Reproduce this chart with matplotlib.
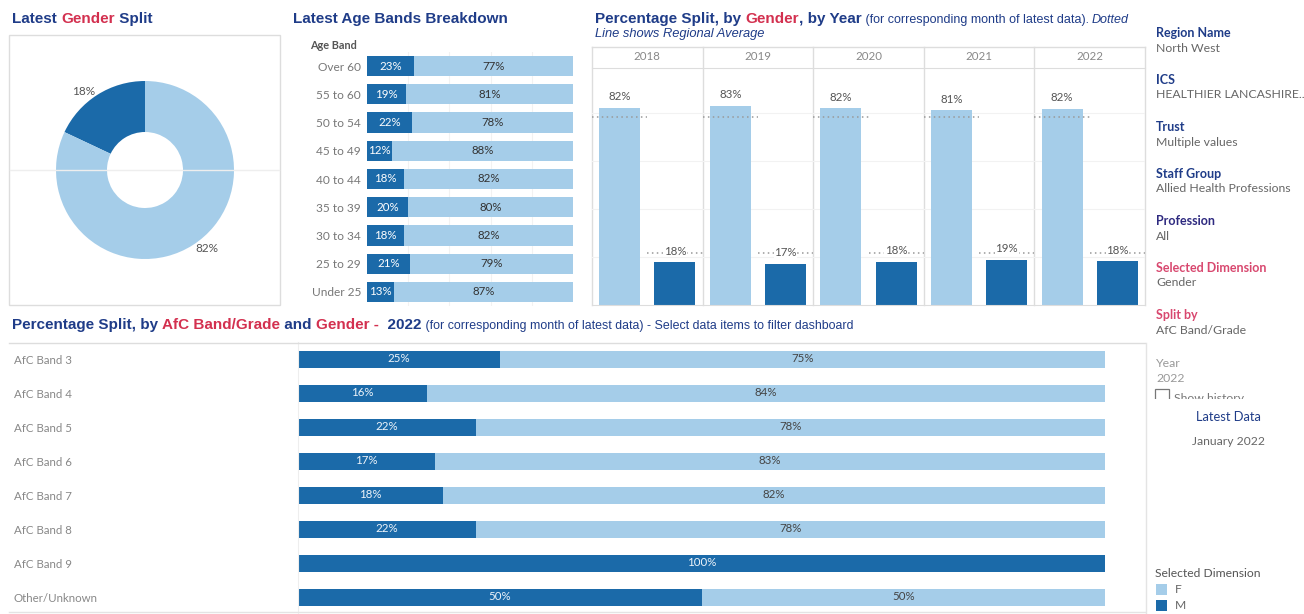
import math
import matplotlib
matplotlib.use('Agg')
import matplotlib.pyplot as plt
from matplotlib.patches import Rectangle
from matplotlib.lines import Line2D

# ---------------- data ----------------
gender_labels = ['M', 'F']
gender_split = [18, 82]

age_bands = ['Over 60', '55 to 60', '50 to 54', '45 to 49', '40 to 44',
             '35 to 39', '30 to 34', '25 to 29', 'Under 25']
age_m = [23, 19, 22, 12, 18, 20, 18, 21, 13]
age_f = [77, 81, 78, 88, 82, 80, 82, 79, 87]

years = ['2018', '2019', '2020', '2021', '2022']
year_f = [82.2, 82.9, 81.9, 81.2, 81.7]
year_m = [17.8, 17.1, 18.1, 18.8, 18.3]
regional_f = 78.2
regional_m = 21.8

afc_bands = ['AfC Band 3', 'AfC Band 4', 'AfC Band 5', 'AfC Band 6',
             'AfC Band 7', 'AfC Band 8', 'AfC Band 9', 'Other/Unknown']
afc_m = [25, 16, 22, 17, 18, 22, 100, 50]
afc_f = [75, 84, 78, 83, 82, 78, 0, 50]

sidebar = [('Region Name', 'North West', 'navy'),
           ('ICS', 'HEALTHIER LANCASHIRE..', 'navy'),
           ('Trust', 'Multiple values', 'navy'),
           ('Staff Group', 'Allied Health Professions', 'navy'),
           ('Profession', 'All', 'purple'),
           ('Selected Dimension', 'Gender', 'pink'),
           ('Split by', 'AfC Band/Grade', 'pink')]

# ---------------- style ----------------
W, H = 1304, 614
NAVY = '#1f3c88'
PURPLE = '#2e2a80'
CRIMSON = '#d3304f'
PINK = '#d8486f'
DARK = '#1b6aa9'
LIGHT = '#a5cde9'
BODY = ['Lato', 'DejaVu Sans']
TITLE = ['Liberation Sans', 'DejaVu Sans']

fig = plt.figure(figsize=(W / 100, H / 100), dpi=100)
renderer = fig.canvas.get_renderer()


def fx(x):
    return x / W


def fy(y):
    return 1 - y / H


def px_axes(x0, y0, x1, y1):
    return fig.add_axes([fx(x0), fy(y1), (x1 - x0) / W, (y1 - y0) / H])


def hline(x0, x1, y, color='#dddddd', lw=1.0):
    fig.add_artist(Line2D([fx(x0), fx(x1)], [fy(y), fy(y)], transform=fig.transFigure,
                          color=color, lw=lw))


def vline(x, y0, y1, color='#dddddd', lw=1.0):
    fig.add_artist(Line2D([fx(x), fx(x)], [fy(y0), fy(y1)], transform=fig.transFigure,
                          color=color, lw=lw))


def text_width(s, **kw):
    t1 = fig.text(0, 0, '|' + s + '|', **kw)
    t2 = fig.text(0, 0, '||', **kw)
    w = t1.get_window_extent(renderer).width - t2.get_window_extent(renderer).width
    t1.remove()
    t2.remove()
    return w


def rich(x, y, parts):
    for txt, color, size, weight, style in parts:
        kw = dict(color=color, fontsize=size, fontweight=weight, fontstyle=style, family=TITLE)
        fig.text(fx(x), fy(y), txt, va='baseline', ha='left', **kw)
        x += text_width(txt, **kw)


# ---------------- titles ----------------
rich(12, 23, [('Latest ', NAVY, 11, 'bold', 'normal'),
              ('Gender', CRIMSON, 11, 'bold', 'normal'),
              (' Split', NAVY, 11, 'bold', 'normal')])
rich(293, 23, [('Latest Age Bands Breakdown', NAVY, 11, 'bold', 'normal')])
rich(595, 23, [('Percentage Split, by ', NAVY, 11, 'bold', 'normal'),
               ('Gender', CRIMSON, 11, 'bold', 'normal'),
               (', by Year', NAVY, 11, 'bold', 'normal'),
               (' (for corresponding month of latest data). ', NAVY, 9, 'normal', 'normal'),
               ('Dotted', NAVY, 9, 'normal', 'italic')])
rich(595, 37.5, [('Line shows Regional Average', NAVY, 9.3, 'normal', 'italic')])
rich(12, 329, [('Percentage Split, by ', NAVY, 11, 'bold', 'normal'),
               ('AfC Band/Grade', CRIMSON, 11, 'bold', 'normal'),
               (' and ', NAVY, 11, 'bold', 'normal'),
               ('Gender -', CRIMSON, 11, 'bold', 'normal'),
               ('  2022', NAVY, 11, 'bold', 'normal'),
               (' (for corresponding month of latest data) - Select data items to filter dashboard',
                NAVY, 8.9, 'normal', 'normal')])

# ---------------- donut ----------------
fig.add_artist(Rectangle((fx(9), fy(305)), (280 - 9) / W, (305 - 35) / H,
                         transform=fig.transFigure, fill=False, edgecolor='#dddddd', lw=1))
hline(10, 279, 170, color='#eeeeee', lw=1)
axd = px_axes(9, 35, 280, 305)
cx, cy, R = 145, -170, 89
wedges, _ = axd.pie(gender_split, colors=[DARK, LIGHT], startangle=90, counterclock=True,
                    radius=R, center=(cx, cy), wedgeprops=dict(width=51, edgecolor='none'),
                    frame=False)
for w, v in zip(wedges, gender_split):
    mid = math.radians((w.theta1 + w.theta2) / 2)
    dx, dy = math.cos(mid), math.sin(mid)
    axd.text(cx + 1.05 * R * dx, cy + 1.05 * R * dy, f'{v}%',
             ha='right' if dx < 0 else 'left', va='center', color='#555555',
             fontsize=8.5, family=BODY)
axd.set_xlim(9, 280)
axd.set_ylim(-305, -35)
axd.set_aspect('auto')
axd.axis('off')

# ---------------- age bands ----------------
axa = px_axes(367, 51.9, 573, 306.1)
ya = list(range(len(age_bands)))
axa.barh(ya, [m / 100 for m in age_m], height=0.72, color=DARK, zorder=2)
axa.barh(ya, [f / 100 for f in age_f], left=[m / 100 for m in age_m], height=0.72,
         color=LIGHT, zorder=2)
for i, (m, f) in enumerate(zip(age_m, age_f)):
    axa.text(m / 200, i, f'{m}%', ha='center', va='center', color='white', fontsize=8.3,
             family=BODY, zorder=3)
    axa.text(m / 100 + f / 200, i, f'{f}%', ha='center', va='center', color='#333333',
             fontsize=8.3, family=BODY, zorder=3)
axa.set_xlim(0, 1)
axa.set_ylim(len(age_bands) - 0.5, -0.5)
axa.set_yticks(ya)
axa.set_yticklabels(age_bands, family=BODY, fontsize=8.6, color='#777777')
axa.tick_params(axis='y', length=0, pad=4.3)
axa.set_xticks([0.2, 0.4, 0.6, 0.8])
axa.tick_params(axis='x', length=0, labelbottom=False)
axa.grid(axis='x', color='#f2f2f2', lw=0.8, zorder=0)
for s in axa.spines.values():
    s.set_visible(False)
fig.text(fx(310), fy(49), 'Age Band', family=BODY, fontsize=7.8, fontweight='bold',
         color='#555555', va='baseline')

# ---------------- by year ----------------
axy = px_axes(592, 68, 1145, 305)
xf = [2 * i for i in range(len(years))]
xm = [2 * i + 1 for i in range(len(years))]
axy.bar(xf, year_f, width=0.74, color=LIGHT, zorder=2)
axy.bar(xm, year_m, width=0.74, color=DARK, zorder=2)
for i in range(len(years)):
    axy.hlines(regional_f, 2 * i - 0.5, 2 * i + 0.5, colors='#999999', lw=1.1,
               linestyles=(0, (1, 2.2)), zorder=3)
    axy.hlines(regional_m, 2 * i + 0.5, 2 * i + 1.5, colors='#999999', lw=1.1,
               linestyles=(0, (1, 2.2)), zorder=3)
    axy.annotate(f'{year_f[i]:.0f}%', (xf[i], year_f[i]), xytext=(0, 4),
                 textcoords='offset points', ha='center', va='bottom', fontsize=8.3,
                 color='#555555', family=BODY, zorder=4)
    axy.annotate(f'{year_m[i]:.0f}%', (xm[i], year_m[i]), xytext=(0, 4),
                 textcoords='offset points', ha='center', va='bottom', fontsize=8.3,
                 color='#555555', family=BODY, zorder=4,
                 bbox=dict(boxstyle='square,pad=0.05', fc='white', ec='none'))
    axy.text(2 * i + 0.5, (305 - 57) / 237, years[i], transform=axy.get_xaxis_transform(),
             ha='center', va='center', fontsize=8.3, color='#888888', family=BODY,
             clip_on=False)
for i in range(len(years) + 1):
    axy.plot([2 * i - 0.5, 2 * i - 0.5], [0, (305 - 47) / 237], color='#dddddd', lw=1,
             transform=axy.get_xaxis_transform(), clip_on=False, zorder=1)
axy.set_xlim(-0.5, 2 * len(years) - 0.5)
axy.set_ylim(0, 98.75)
axy.set_yticks([20, 40, 60, 80])
axy.set_xticks([])
axy.tick_params(axis='y', length=0, labelleft=False)
axy.grid(axis='y', color='#f2f2f2', lw=0.8, zorder=0)
for k, s in axy.spines.items():
    s.set_visible(k in ('top', 'bottom'))
    s.set_color('#dddddd')
hline(592, 1145, 47)

# ---------------- AfC bands ----------------
hline(9, 1145, 343)
hline(9, 1145, 612, color='#e4e4e4')
vline(1146, 343, 614, color='#e4e4e4')
axb = px_axes(298, 342, 1105, 614)
yb = list(range(len(afc_bands)))
axb.barh(yb, [m / 100 for m in afc_m], height=0.5, color=DARK, zorder=2)
axb.barh(yb, [f / 100 for f in afc_f], left=[m / 100 for m in afc_m], height=0.5,
         color=LIGHT, zorder=2)
for i, (m, f) in enumerate(zip(afc_m, afc_f)):
    if m > 0:
        axb.text(m / 200, i, f'{m}%', ha='center', va='center', color='#eef4fa',
                 fontsize=8.3, family=BODY, zorder=3)
    if f > 0:
        axb.text(m / 100 + f / 200, i, f'{f}%', ha='center', va='center', color='#444444',
                 fontsize=8.3, family=BODY, zorder=3)
axb.set_xlim(0, 1)
axb.set_ylim(len(afc_bands) - 0.5, -0.5)
axb.set_yticks(yb)
axb.set_yticklabels(afc_bands, family=BODY, fontsize=8.3, color='#888888')
for lab in axb.get_yticklabels():
    lab.set_ha('left')
axb.tick_params(axis='y', length=0, pad=(298 - 14) * 0.72)
axb.set_xticks([])
for k, s in axb.spines.items():
    s.set_visible(k == 'left')
    s.set_color('#eeeeee')

# ---------------- sidebar ----------------
axs = px_axes(1150, 0, 1304, 399)
axs.set_xlim(1150, 1304)
axs.set_ylim(399, 0)
axs.axis('off')
head_colors = {'navy': NAVY, 'purple': PURPLE, 'pink': PINK}
y = 37
for head, val, col in sidebar:
    axs.text(1156, y, head, color=head_colors[col], fontsize=9, fontweight='bold',
             family=BODY, va='baseline')
    axs.text(1156, y + 14.5, val, color='#666666', fontsize=8.8, family=BODY, va='baseline')
    y += 47
axs.text(1156, 367, 'Year', color='#999999', fontsize=8.8, family=BODY, va='baseline')
axs.text(1156, 382, '2022', color='#999999', fontsize=8.8, family=BODY, va='baseline')
axs.add_patch(Rectangle((1155, 389), 14, 12, fill=False, edgecolor='#777777', lw=0.9,
                        clip_on=True))
axs.text(1174, 402, 'Show history', color='#777777', fontsize=8.8, family=BODY,
         va='baseline', clip_on=True)

fig.text(fx(1228), fy(421), 'Latest Data', color=NAVY, fontsize=9.3, family=BODY,
         ha='center', va='baseline')
fig.text(fx(1228), fy(445), 'January 2022', color='#666666', fontsize=8.7, family=BODY,
         ha='center', va='baseline')
fig.text(fx(1155), fy(577), 'Selected Dimension', color='#555555', fontsize=8.7,
         family=BODY, va='baseline')
for name, col, y0 in [('F', LIGHT, 584), ('M', DARK, 600)]:
    fig.add_artist(Rectangle((fx(1156), fy(y0 + 11)), 11 / W, 11 / H,
                             transform=fig.transFigure, color=col, lw=0))
    fig.text(fx(1175), fy(y0 + 9), name, color='#666666', fontsize=8.7, family=BODY,
             va='baseline')

fig.savefig('out.png', dpi=100)
